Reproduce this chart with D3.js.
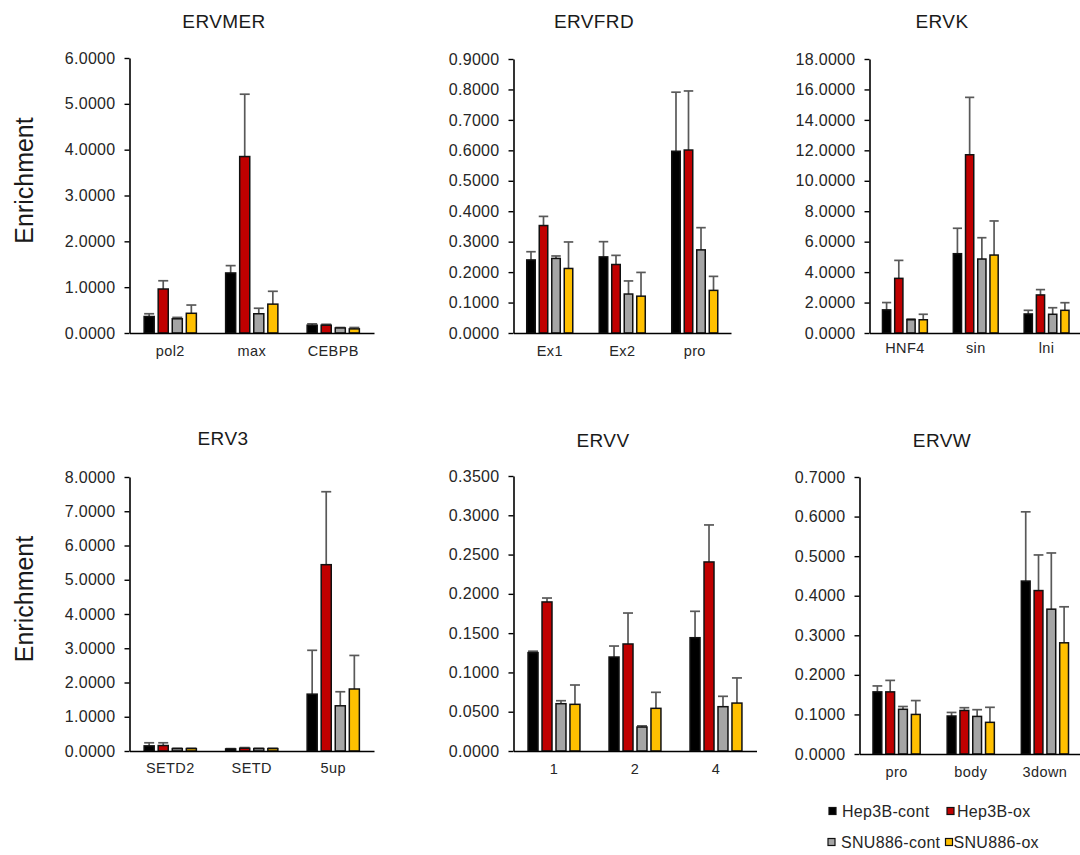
<!DOCTYPE html>
<html>
<head>
<meta charset="utf-8">
<script src="https://cdn.jsdelivr.net/npm/d3@7"></script>
<style>
  html, body { margin: 0; padding: 0; background: #fff; }
  svg { display: block; font-family: "Liberation Sans", Arial, sans-serif; }
  .domain { stroke: #000; stroke-width: 1.6; }
  .tick line { stroke: #000; stroke-width: 1.4; }
</style>
</head>
<body>
<svg id="chart" width="1080" height="855"></svg>
<script>
// ---- Series (cell lines) ----
const SERIES = ["Hep3B-cont", "Hep3B-ox", "SNU886-cont", "SNU886-ox"];
const SERIES_COLORS = ["#000000", "#C00000", "#A5A5A5", "#FFC000"];

// ---- ERVMER ----
const ERVMER_CATS = ["pol2", "max", "CEBPB"];
const ERVMER_TICKS = [0, 1, 2, 3, 4, 5, 6];
// mean enrichment, one row per series, one column per category
const ERVMER_MEAN = [[0.36, 1.31, 0.17], [0.96, 3.85, 0.17], [0.31, 0.42, 0.11], [0.43, 0.63, 0.09]];
const ERVMER_SD   = [[0.06, 0.16, 0.03], [0.18, 1.36, 0.02], [0.03, 0.12, 0.01], [0.18, 0.28, 0.03]];

// ---- ERVFRD ----
const ERVFRD_CATS = ["Ex1", "Ex2", "pro"];
const ERVFRD_TICKS = [0, 0.1, 0.2, 0.3, 0.4, 0.5, 0.6, 0.7, 0.8, 0.9];
const ERVFRD_MEAN = [[0.240, 0.250, 0.597], [0.353, 0.225, 0.601], [0.245, 0.128, 0.273], [0.212, 0.121, 0.140]];
const ERVFRD_SD   = [[0.027, 0.050, 0.194], [0.030, 0.030, 0.194], [0.008, 0.043, 0.073], [0.087, 0.078, 0.046]];

// ---- ERVK ----
const ERVK_CATS = ["HNF4", "sin", "lni"];
const ERVK_TICKS = [0, 2, 4, 6, 8, 10, 12, 14, 16, 18];
const ERVK_MEAN = [[1.52, 5.21, 1.25], [3.59, 11.71, 2.50], [0.87, 4.86, 1.23], [0.87, 5.12, 1.49]];
const ERVK_SD   = [[0.48, 1.67, 0.24], [1.18, 3.77, 0.35], [0.05, 1.40, 0.43], [0.36, 2.24, 0.50]];

// ---- ERV3 ----
const ERV3_CATS = ["SETD2", "SETD", "5up"];
const ERV3_TICKS = [0, 1, 2, 3, 4, 5, 6, 7, 8];
const ERV3_MEAN = [[0.15, 0.06, 1.66], [0.16, 0.08, 5.44], [0.07, 0.07, 1.32], [0.07, 0.07, 1.81]];
const ERV3_SD   = [[0.09, 0.01, 1.28], [0.08, 0.02, 2.13], [0.01, 0.01, 0.41], [0.01, 0.01, 0.98]];

// ---- ERVV ----
const ERVV_CATS = ["1", "2", "4"];
const ERVV_TICKS = [0, 0.05, 0.1, 0.15, 0.2, 0.25, 0.3, 0.35];
const ERVV_MEAN = [[0.1252, 0.1196, 0.1442], [0.1897, 0.1362, 0.2406], [0.0602, 0.0305, 0.0564], [0.0594, 0.0543, 0.0610]];
const ERVV_SD   = [[0.0018, 0.0140, 0.0336], [0.0050, 0.0394, 0.0471], [0.0038, 0.0015, 0.0132], [0.0246, 0.0204, 0.0320]];

// ---- ERVW ----
const ERVW_CATS = ["pro", "body", "3down"];
const ERVW_TICKS = [0, 0.1, 0.2, 0.3, 0.4, 0.5, 0.6, 0.7];
const ERVW_MEAN = [[0.157, 0.096, 0.437], [0.157, 0.110, 0.413], [0.113, 0.095, 0.366], [0.100, 0.080, 0.281]];
const ERVW_SD   = [[0.015, 0.009, 0.175], [0.029, 0.007, 0.090], [0.007, 0.017, 0.142], [0.035, 0.038, 0.091]];

const Y_LABEL = "Enrichment";

// Panel table: data plus where each small chart sits on the page
const panels = [
  { title: "ERVMER", cats: ERVMER_CATS, ticks: ERVMER_TICKS, mean: ERVMER_MEAN, sd: ERVMER_SD,
    x0: 129.5, x1: 374, yTop: 58, yBase: 333, titleX: 224, titleY: 28, catDy: 23, yLabel: true },
  { title: "ERVFRD", cats: ERVFRD_CATS, ticks: ERVFRD_TICKS, mean: ERVFRD_MEAN, sd: ERVFRD_SD,
    x0: 513.5, x1: 731, yTop: 59, yBase: 333, titleX: 594, titleY: 28, catDy: 23 },
  { title: "ERVK", cats: ERVK_CATS, ticks: ERVK_TICKS, mean: ERVK_MEAN, sd: ERVK_SD,
    x0: 869.5, x1: 1082, yTop: 59, yBase: 333, titleX: 942, titleY: 28, catDy: 20 },
  { title: "ERV3", cats: ERV3_CATS, ticks: ERV3_TICKS, mean: ERV3_MEAN, sd: ERV3_SD,
    x0: 129.5, x1: 374, yTop: 477, yBase: 751, titleX: 223, titleY: 445, catDy: 22, yLabel: true },
  { title: "ERVV", cats: ERVV_CATS, ticks: ERVV_TICKS, mean: ERVV_MEAN, sd: ERVV_SD,
    x0: 513.5, x1: 756.5, yTop: 476, yBase: 751, titleX: 603, titleY: 447, catDy: 23 },
  { title: "ERVW", cats: ERVW_CATS, ticks: ERVW_TICKS, mean: ERVW_MEAN, sd: ERVW_SD,
    x0: 859.5, x1: 1082, yTop: 477, yBase: 754, titleX: 942, titleY: 447, catDy: 23 }
];

const svg = d3.select("#chart");
const fmt = d3.format(".4f");

panels.forEach(p => {
  const g = svg.append("g");
  const yMax = p.ticks[p.ticks.length - 1];

  const x = d3.scaleBand().domain(p.cats).range([p.x0, p.x1])
    .paddingInner(0.31).paddingOuter(0.155);
  const xs = d3.scaleBand().domain(d3.range(SERIES.length)).range([0, x.bandwidth()]);
  const y = d3.scaleLinear().domain([0, yMax]).range([p.yBase, p.yTop]);

  // title
  g.append("text")
    .attr("x", p.titleX).attr("y", p.titleY)
    .attr("text-anchor", "middle")
    .attr("font-size", 19).attr("letter-spacing", 0.4)
    .attr("fill", "#1a1a1a")
    .text(p.title);

  // flat records for bars
  const recs = [];
  SERIES.forEach((s, si) => {
    p.cats.forEach((c, ci) => {
      recs.push({ si, cat: c, mean: p.mean[si][ci], sd: p.sd[si][ci] });
    });
  });

  const inset = 2.0;
  const barW = xs.bandwidth() - 2 * inset;

  // error bars (upper only), drawn behind bars
  const err = g.append("g").attr("stroke", "#595959").attr("stroke-width", 1.7).attr("fill", "none");
  recs.forEach(r => {
    const cx = x(r.cat) + xs(r.si) + xs.bandwidth() / 2;
    const yT = y(r.mean + r.sd);
    const capHalf = Math.min(5, barW / 2 + 0.5);
    err.append("line").attr("x1", cx).attr("x2", cx).attr("y1", y(r.mean)).attr("y2", yT);
    err.append("line").attr("x1", cx - capHalf).attr("x2", cx + capHalf).attr("y1", yT).attr("y2", yT);
  });

  // bars
  g.append("g").selectAll("rect").data(recs).join("rect")
    .attr("x", d => x(d.cat) + xs(d.si) + inset)
    .attr("y", d => y(d.mean))
    .attr("width", barW)
    .attr("height", d => y(0) - y(d.mean))
    .attr("fill", d => SERIES_COLORS[d.si])
    .attr("stroke", "#111")
    .attr("stroke-width", 1.5);

  // y axis
  const ya = g.append("g").attr("transform", `translate(${p.x0},0)`)
    .call(d3.axisLeft(y).tickValues(p.ticks).tickFormat(fmt)
      .tickSize(5).tickSizeOuter(0).tickPadding(9));
  ya.selectAll("text").attr("font-size", 16).attr("letter-spacing", 0.3)
    .attr("fill", "#262626").attr("font-family", "Liberation Sans, Arial, sans-serif");

  // x axis
  const xa = g.append("g").attr("transform", `translate(0,${p.yBase})`)
    .call(d3.axisBottom(x).tickSize(0).tickSizeOuter(0).tickPadding(0));
  xa.selectAll("text").attr("font-size", 14.5).attr("letter-spacing", 0.4)
    .attr("fill", "#262626").attr("dy", 0).attr("y", p.catDy)
    .attr("font-family", "Liberation Sans, Arial, sans-serif");

  // y label
  if (p.yLabel) {
    const cy = (p.yTop + p.yBase) / 2 - 15;
    g.append("text")
      .attr("transform", `translate(33,${cy}) rotate(-90)`)
      .attr("text-anchor", "middle")
      .attr("font-size", 25)
      .attr("fill", "#1a1a1a")
      .text(Y_LABEL);
  }
});

// legend: two rows of two entries
const legendPos = [
  { sx: 829, tx: 842, y: 811 },
  { sx: 947, tx: 957, y: 811 },
  { sx: 828, tx: 841, y: 842 },
  { sx: 945.5, tx: 953.5, y: 842 }
];
const lg = svg.append("g");
SERIES.forEach((s, i) => {
  const pos = legendPos[i];
  lg.append("rect")
    .attr("x", pos.sx).attr("y", pos.y - 3.5)
    .attr("width", 7).attr("height", 7)
    .attr("fill", SERIES_COLORS[i]).attr("stroke", "#111").attr("stroke-width", 1.2);
  lg.append("text")
    .attr("x", pos.tx).attr("y", pos.y + 5.5)
    .attr("font-size", 16).attr("letter-spacing", 0.3)
    .attr("fill", "#262626")
    .text(s);
});
</script>
</body>
</html>
